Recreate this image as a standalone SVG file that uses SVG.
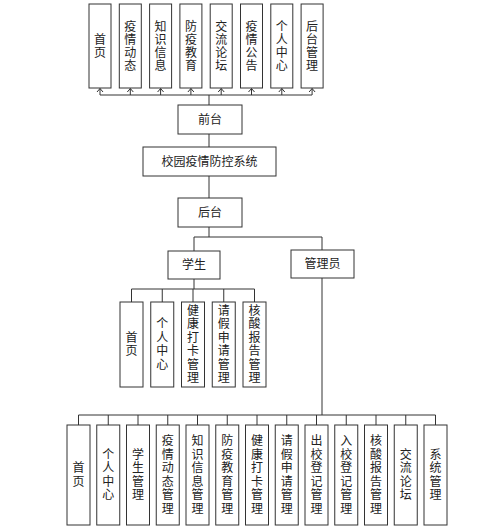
<svg xmlns="http://www.w3.org/2000/svg" width="500" height="528" viewBox="0 0 500 528">
<style>
.b{fill:#fff;stroke:#333;stroke-width:1}
.t{font-family:"Liberation Serif","Noto Sans CJK SC",serif;font-size:12px;fill:#222;text-anchor:middle;dominant-baseline:central}
.c{fill:none;stroke:#333;stroke-width:1}
</style>
<defs>
<marker id="ah" markerUnits="userSpaceOnUse" viewBox="-5 -5 10 10" refX="0" refY="0" markerWidth="10" markerHeight="10" orient="auto">
<path d="M-3.5,-3 L0,0 L-3.5,3" fill="none" stroke="#333" stroke-width="1"/>
</marker>
</defs>
<rect width="500" height="528" fill="#fff"/>
<g id="connectors">
<path class="c" d="M100,95H312M209,95V105M209,134V147M209,176V198M209,227V237M194,237H322M194,237V251M322,237V250"/>
<line class="c" x1="100" y1="95" x2="100" y2="88.5" marker-end="url(#ah)"/>
<line class="c" x1="130.3" y1="95" x2="130.3" y2="88.5" marker-end="url(#ah)"/>
<line class="c" x1="160.6" y1="95" x2="160.6" y2="88.5" marker-end="url(#ah)"/>
<line class="c" x1="190.9" y1="95" x2="190.9" y2="88.5" marker-end="url(#ah)"/>
<line class="c" x1="221.2" y1="95" x2="221.2" y2="88.5" marker-end="url(#ah)"/>
<line class="c" x1="251.5" y1="95" x2="251.5" y2="88.5" marker-end="url(#ah)"/>
<line class="c" x1="281.8" y1="95" x2="281.8" y2="88.5" marker-end="url(#ah)"/>
<line class="c" x1="312.1" y1="95" x2="312.1" y2="88.5" marker-end="url(#ah)"/>
<path class="c" d="M194,279V289M131.5,289H254.5M131.5,289V302M162.25,289V302M193,289V302M223.75,289V302M254.5,289V302"/>
<path class="c" d="M322,278V415M78.5,415H435.5M78.5,415V425M108.25,415V425M138,415V425M167.75,415V425M197.5,415V425M227.25,415V425M257,415V425M286.75,415V425M316.5,415V425M346.25,415V425M376,415V425M405.75,415V425M435.5,415V425"/>
</g>
<g id="front-shouye"><rect class="b" x="89" y="4" width="22" height="84"/><text class="t"><tspan x="100" y="39.5">首</tspan><tspan x="100" y="52.5">页</tspan></text></g>
<g id="front-yqdt"><rect class="b" x="119.3" y="4" width="22" height="84"/><text class="t"><tspan x="130.3" y="26.5">疫</tspan><tspan x="130.3" y="39.5">情</tspan><tspan x="130.3" y="52.5">动</tspan><tspan x="130.3" y="65.5">态</tspan></text></g>
<g id="front-zsxx"><rect class="b" x="149.6" y="4" width="22" height="84"/><text class="t"><tspan x="160.6" y="26.5">知</tspan><tspan x="160.6" y="39.5">识</tspan><tspan x="160.6" y="52.5">信</tspan><tspan x="160.6" y="65.5">息</tspan></text></g>
<g id="front-fyjy"><rect class="b" x="179.9" y="4" width="22" height="84"/><text class="t"><tspan x="190.9" y="26.5">防</tspan><tspan x="190.9" y="39.5">疫</tspan><tspan x="190.9" y="52.5">教</tspan><tspan x="190.9" y="65.5">育</tspan></text></g>
<g id="front-jllt"><rect class="b" x="210.2" y="4" width="22" height="84"/><text class="t"><tspan x="221.2" y="26.5">交</tspan><tspan x="221.2" y="39.5">流</tspan><tspan x="221.2" y="52.5">论</tspan><tspan x="221.2" y="65.5">坛</tspan></text></g>
<g id="front-yqgg"><rect class="b" x="240.5" y="4" width="22" height="84"/><text class="t"><tspan x="251.5" y="26.5">疫</tspan><tspan x="251.5" y="39.5">情</tspan><tspan x="251.5" y="52.5">公</tspan><tspan x="251.5" y="65.5">告</tspan></text></g>
<g id="front-grzx"><rect class="b" x="270.8" y="4" width="22" height="84"/><text class="t"><tspan x="281.8" y="26.5">个</tspan><tspan x="281.8" y="39.5">人</tspan><tspan x="281.8" y="52.5">中</tspan><tspan x="281.8" y="65.5">心</tspan></text></g>
<g id="front-htgl"><rect class="b" x="301.1" y="4" width="22" height="84"/><text class="t"><tspan x="312.1" y="26.5">后</tspan><tspan x="312.1" y="39.5">台</tspan><tspan x="312.1" y="52.5">管</tspan><tspan x="312.1" y="65.5">理</tspan></text></g>
<g id="qiantai"><rect class="b" x="178" y="105" width="64" height="29"/><text class="t" x="210" y="119.5">前台</text></g>
<g id="system"><rect class="b" x="143" y="147" width="133" height="29"/><text class="t" x="209.5" y="161.5">校园疫情防控系统</text></g>
<g id="houtai"><rect class="b" x="178" y="198" width="64" height="29"/><text class="t" x="210" y="212.5">后台</text></g>
<g id="xuesheng"><rect class="b" x="168" y="251" width="52" height="28"/><text class="t" x="194" y="265">学生</text></g>
<g id="guanliyuan"><rect class="b" x="291" y="250" width="63" height="28"/><text class="t" x="322.5" y="264">管理员</text></g>
<g id="stu-shouye"><rect class="b" x="120" y="302" width="23" height="85"/><text class="t"><tspan x="131.5" y="337.75">首</tspan><tspan x="131.5" y="351.25">页</tspan></text></g>
<g id="stu-grzx"><rect class="b" x="150.75" y="302" width="23" height="85"/><text class="t"><tspan x="162.25" y="324.25">个</tspan><tspan x="162.25" y="337.75">人</tspan><tspan x="162.25" y="351.25">中</tspan><tspan x="162.25" y="364.75">心</tspan></text></g>
<g id="stu-jkdk"><rect class="b" x="181.5" y="302" width="23" height="85"/><text class="t"><tspan x="193" y="310.75">健</tspan><tspan x="193" y="324.25">康</tspan><tspan x="193" y="337.75">打</tspan><tspan x="193" y="351.25">卡</tspan><tspan x="193" y="364.75">管</tspan><tspan x="193" y="378.25">理</tspan></text></g>
<g id="stu-qjsq"><rect class="b" x="212.25" y="302" width="23" height="85"/><text class="t"><tspan x="223.75" y="310.75">请</tspan><tspan x="223.75" y="324.25">假</tspan><tspan x="223.75" y="337.75">申</tspan><tspan x="223.75" y="351.25">请</tspan><tspan x="223.75" y="364.75">管</tspan><tspan x="223.75" y="378.25">理</tspan></text></g>
<g id="stu-hsbg"><rect class="b" x="243" y="302" width="23" height="85"/><text class="t"><tspan x="254.5" y="310.75">核</tspan><tspan x="254.5" y="324.25">酸</tspan><tspan x="254.5" y="337.75">报</tspan><tspan x="254.5" y="351.25">告</tspan><tspan x="254.5" y="364.75">管</tspan><tspan x="254.5" y="378.25">理</tspan></text></g>
<g id="adm-shouye"><rect class="b" x="67" y="425" width="23" height="100"/><text class="t"><tspan x="78.5" y="468.25">首</tspan><tspan x="78.5" y="481.75">页</tspan></text></g>
<g id="adm-grzx"><rect class="b" x="96.75" y="425" width="23" height="100"/><text class="t"><tspan x="108.25" y="454.75">个</tspan><tspan x="108.25" y="468.25">人</tspan><tspan x="108.25" y="481.75">中</tspan><tspan x="108.25" y="495.25">心</tspan></text></g>
<g id="adm-xsgl"><rect class="b" x="126.5" y="425" width="23" height="100"/><text class="t"><tspan x="138" y="454.75">学</tspan><tspan x="138" y="468.25">生</tspan><tspan x="138" y="481.75">管</tspan><tspan x="138" y="495.25">理</tspan></text></g>
<g id="adm-yqdt"><rect class="b" x="156.25" y="425" width="23" height="100"/><text class="t"><tspan x="167.75" y="441.25">疫</tspan><tspan x="167.75" y="454.75">情</tspan><tspan x="167.75" y="468.25">动</tspan><tspan x="167.75" y="481.75">态</tspan><tspan x="167.75" y="495.25">管</tspan><tspan x="167.75" y="508.75">理</tspan></text></g>
<g id="adm-zsxx"><rect class="b" x="186" y="425" width="23" height="100"/><text class="t"><tspan x="197.5" y="441.25">知</tspan><tspan x="197.5" y="454.75">识</tspan><tspan x="197.5" y="468.25">信</tspan><tspan x="197.5" y="481.75">息</tspan><tspan x="197.5" y="495.25">管</tspan><tspan x="197.5" y="508.75">理</tspan></text></g>
<g id="adm-fyjy"><rect class="b" x="215.75" y="425" width="23" height="100"/><text class="t"><tspan x="227.25" y="441.25">防</tspan><tspan x="227.25" y="454.75">疫</tspan><tspan x="227.25" y="468.25">教</tspan><tspan x="227.25" y="481.75">育</tspan><tspan x="227.25" y="495.25">管</tspan><tspan x="227.25" y="508.75">理</tspan></text></g>
<g id="adm-jkdk"><rect class="b" x="245.5" y="425" width="23" height="100"/><text class="t"><tspan x="257" y="441.25">健</tspan><tspan x="257" y="454.75">康</tspan><tspan x="257" y="468.25">打</tspan><tspan x="257" y="481.75">卡</tspan><tspan x="257" y="495.25">管</tspan><tspan x="257" y="508.75">理</tspan></text></g>
<g id="adm-qjsq"><rect class="b" x="275.25" y="425" width="23" height="100"/><text class="t"><tspan x="286.75" y="441.25">请</tspan><tspan x="286.75" y="454.75">假</tspan><tspan x="286.75" y="468.25">申</tspan><tspan x="286.75" y="481.75">请</tspan><tspan x="286.75" y="495.25">管</tspan><tspan x="286.75" y="508.75">理</tspan></text></g>
<g id="adm-cxdj"><rect class="b" x="305" y="425" width="23" height="100"/><text class="t"><tspan x="316.5" y="441.25">出</tspan><tspan x="316.5" y="454.75">校</tspan><tspan x="316.5" y="468.25">登</tspan><tspan x="316.5" y="481.75">记</tspan><tspan x="316.5" y="495.25">管</tspan><tspan x="316.5" y="508.75">理</tspan></text></g>
<g id="adm-rxdj"><rect class="b" x="334.75" y="425" width="23" height="100"/><text class="t"><tspan x="346.25" y="441.25">入</tspan><tspan x="346.25" y="454.75">校</tspan><tspan x="346.25" y="468.25">登</tspan><tspan x="346.25" y="481.75">记</tspan><tspan x="346.25" y="495.25">管</tspan><tspan x="346.25" y="508.75">理</tspan></text></g>
<g id="adm-hsbg"><rect class="b" x="364.5" y="425" width="23" height="100"/><text class="t"><tspan x="376" y="441.25">核</tspan><tspan x="376" y="454.75">酸</tspan><tspan x="376" y="468.25">报</tspan><tspan x="376" y="481.75">告</tspan><tspan x="376" y="495.25">管</tspan><tspan x="376" y="508.75">理</tspan></text></g>
<g id="adm-jllt"><rect class="b" x="394.25" y="425" width="23" height="100"/><text class="t"><tspan x="405.75" y="454.75">交</tspan><tspan x="405.75" y="468.25">流</tspan><tspan x="405.75" y="481.75">论</tspan><tspan x="405.75" y="495.25">坛</tspan></text></g>
<g id="adm-xtgl"><rect class="b" x="424" y="425" width="23" height="100"/><text class="t"><tspan x="435.5" y="454.75">系</tspan><tspan x="435.5" y="468.25">统</tspan><tspan x="435.5" y="481.75">管</tspan><tspan x="435.5" y="495.25">理</tspan></text></g>
</svg>
